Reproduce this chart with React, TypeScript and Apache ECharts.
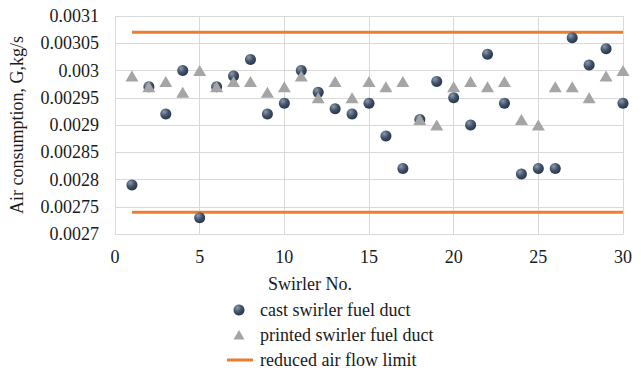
import React, { useEffect, useRef } from "react";
import * as echarts from "echarts";

const swirlerNo = [1, 2, 3, 4, 5, 6, 7, 8, 9, 10, 11, 12, 13, 14, 15, 16, 17, 18, 19, 20, 21, 22, 23, 24, 25, 26, 27, 28, 29, 30];
const castValues = [
  0.00279, 0.00297, 0.00292, 0.003, 0.00273, 0.00297, 0.00299, 0.00302, 0.00292, 0.00294,
  0.003, 0.00296, 0.00293, 0.00292, 0.00294, 0.00288, 0.00282, 0.00291, 0.00298, 0.00295,
  0.0029, 0.00303, 0.00294, 0.00281, 0.00282, 0.00282, 0.00306, 0.00301, 0.00304, 0.00294,
];
const printedValues = [
  0.00299, 0.00297, 0.00298, 0.00296, 0.003, 0.00297, 0.00298, 0.00298, 0.00296, 0.00297,
  0.00299, 0.00295, 0.00298, 0.00295, 0.00298, 0.00297, 0.00298, 0.00291, 0.0029, 0.00297,
  0.00298, 0.00297, 0.00298, 0.00291, 0.0029, 0.00297, 0.00297, 0.00295, 0.00299, 0.003,
];
const upperLimit = 0.00307;
const lowerLimit = 0.00274;
const limitRange = [1, 30];
const legendNames = ["cast swirler fuel duct", "printed swirler fuel duct", "reduced air flow limit"];

const FONT = "Liberation Serif";
const TEXT = "#1a1a1a";
const ORANGE = "#ed7d31";
const GRAY = "#a5a5a5";

export default function App() {
  const ref = useRef<HTMLDivElement>(null);
  useEffect(() => {
    if (!ref.current) return;
    const chart = echarts.init(ref.current, null, { renderer: "svg" });
    const ball = () =>
      new echarts.graphic.RadialGradient(0.35, 0.3, 0.75, [
        { offset: 0, color: "#8a9ab3" },
        { offset: 0.5, color: "#44546a" },
        { offset: 1, color: "#25324a" },
      ]);
    const legendX = 239;
    const legendY = [310, 335, 360];
    const textX = 260;
    chart.setOption({
      animation: false,
      backgroundColor: "#ffffff",
      grid: { left: 111, right: 18, top: 16, bottom: 138 },
      xAxis: {
        type: "value",
        min: 0,
        max: 30,
        interval: 5,
        axisLine: { show: true, lineStyle: { color: "#d9d9d9", width: 1 } },
        axisTick: { show: false },
        axisLabel: { color: TEXT, fontFamily: FONT, fontSize: 18, margin: 14 },
        splitLine: { show: true, lineStyle: { color: "#d9d9d9", width: 1 } },
      },
      yAxis: {
        type: "value",
        min: 0.0027,
        max: 0.0031,
        interval: 0.00005,
        name: "Air consumption, G,kg/s",
        nameLocation: "middle",
        nameGap: 89,
        nameTextStyle: { color: TEXT, fontFamily: FONT, fontSize: 18 },
        axisLine: { show: false },
        axisTick: { show: false },
        axisLabel: {
          color: TEXT,
          fontFamily: FONT,
          fontSize: 18,
          margin: 16,
          formatter: (v: number) => parseFloat(v.toFixed(6)).toString(),
        },
        splitLine: { show: true, lineStyle: { color: "#d9d9d9", width: 1 } },
      },
      graphic: [
        {
          type: "text",
          left: 268,
          top: 275,
          style: { text: "Swirler No.", fontFamily: FONT, fontSize: 18, fill: TEXT },
        },
        {
          type: "circle",
          shape: { cx: legendX, cy: legendY[0], r: 5.5 },
          style: { fill: ball() },
        },
        {
          type: "polygon",
          shape: {
            points: [
              [legendX - 5.5, legendY[1] + 4.5],
              [legendX, legendY[1] - 5],
              [legendX + 5.5, legendY[1] + 4.5],
            ],
          },
          style: { fill: GRAY },
        },
        {
          type: "line",
          shape: { x1: 227, y1: legendY[2], x2: 253, y2: legendY[2] },
          style: { stroke: ORANGE, lineWidth: 3 },
        },
        ...legendNames.map((name, i) => ({
          type: "text",
          x: textX,
          y: legendY[i],
          style: {
            text: name,
            fontFamily: FONT,
            fontSize: 18,
            fill: TEXT,
            verticalAlign: "middle",
          },
        })),
      ],
      series: [
        {
          name: legendNames[2],
          type: "line",
          symbol: "none",
          lineStyle: { color: ORANGE, width: 3 },
          data: limitRange.map((x) => [x, upperLimit]),
          z: 1,
        },
        {
          name: legendNames[2],
          type: "line",
          symbol: "none",
          lineStyle: { color: ORANGE, width: 3 },
          data: limitRange.map((x) => [x, lowerLimit]),
          z: 1,
        },
        {
          name: legendNames[1],
          type: "scatter",
          symbol: "triangle",
          symbolSize: [13, 11],
          itemStyle: { color: GRAY, opacity: 1 },
          data: swirlerNo.map((x, i) => [x, printedValues[i]]),
          z: 3,
        },
        {
          name: legendNames[0],
          type: "scatter",
          symbol: "circle",
          symbolSize: 11,
          itemStyle: { color: ball(), opacity: 1 },
          data: swirlerNo.map((x, i) => [x, castValues[i]]),
          z: 2,
        },
      ],
    });
    return () => chart.dispose();
  }, []);
  return (
    <div
      ref={ref}
      style={{ position: "absolute", left: 0, top: 0, width: 641, height: 372 }}
    />
  );
}
